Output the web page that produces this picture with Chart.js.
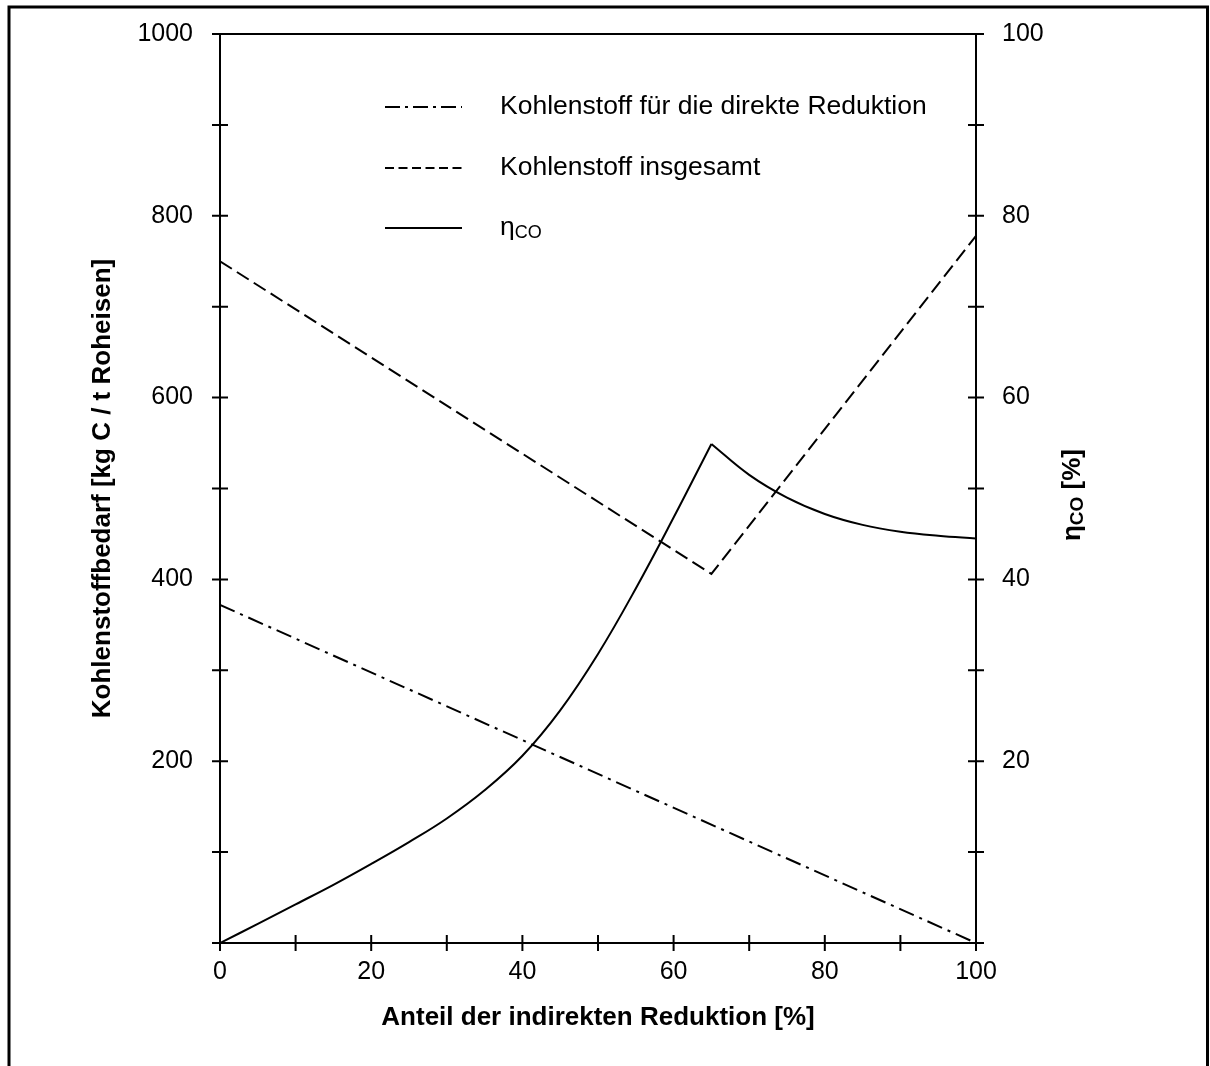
<!DOCTYPE html>
<html>
<head>
<meta charset="utf-8">
<script src="https://cdn.jsdelivr.net/npm/chart.js@4.4.1/dist/chart.umd.min.js"></script>
<style>
  html, body { margin: 0; padding: 0; background: #fff; }
</style>
</head>
<body>
<canvas id="chart" width="1210" height="1066"></canvas>
<script>
// Anteil der indirekten Reduktion [%]
const directShare = [0, 100];
const directCarbon = [372, 0];          // kg C / t Roheisen

const totalShare = [0, 65, 100];
const totalCarbon = [750, 406, 778];    // kg C / t Roheisen

const etaShareRise = [0, 5, 10, 15, 20, 25, 30, 35, 40, 45, 50, 55, 60, 65];
const etaRise = [0, 2.1, 4.25, 6.4, 8.7, 11.1, 13.7, 16.8, 20.6, 25.6, 31.8, 39.0, 46.8, 54.9];  // %
const etaShareFall = [65, 70, 75, 80, 85, 90, 95, 100];
const etaFall = [54.9, 51.5, 49.0, 47.2, 46.0, 45.25, 44.8, 44.5];                              // %

const xLabels = [0, 20, 40, 60, 80, 100];
const yLabels = [200, 400, 600, 800, 1000];
const y1Labels = [20, 40, 60, 80, 100];

const FONT = '"Liberation Sans", Arial, Helvetica, sans-serif';
Chart.defaults.font.family = FONT;
Chart.defaults.color = '#000';

const pts = (xs, ys) => xs.map((x, i) => ({ x, y: ys[i] }));

const legendItems = [
  { text: 'Kohlenstoff für die direkte Reduktion', dash: [15, 5, 3, 5] },
  { text: 'Kohlenstoff insgesamt', dash: [9, 4.5] },
  { text: 'η', sub: 'CO', dash: [] },
];

const decorations = {
  id: 'decorations',
  beforeDraw(chart) {
    const ctx = chart.ctx;
    ctx.save();
    ctx.strokeStyle = '#000';
    ctx.lineWidth = 3;
    ctx.beginPath();
    ctx.moveTo(9, 1066);
    ctx.lineTo(9, 7);
    ctx.lineTo(1207.5, 7);
    ctx.lineTo(1207.5, 1066);
    ctx.stroke();
    ctx.restore();
  },
  afterDraw(chart) {
    const ctx = chart.ctx;
    const area = chart.chartArea;
    const { x, y, y1 } = chart.scales;
    ctx.save();
    ctx.strokeStyle = '#000';
    ctx.lineWidth = 2;
    ctx.beginPath();
    // top frame line
    ctx.moveTo(area.left, area.top);
    ctx.lineTo(area.right, area.top);
    // ticks crossing the axes
    x.ticks.forEach(t => {
      const p = x.getPixelForValue(t.value);
      ctx.moveTo(p, area.bottom - 8);
      ctx.lineTo(p, area.bottom + 8);
    });
    y.ticks.forEach(t => {
      const p = y.getPixelForValue(t.value);
      ctx.moveTo(area.left - 8, p);
      ctx.lineTo(area.left + 8, p);
    });
    y1.ticks.forEach(t => {
      const p = y1.getPixelForValue(t.value);
      ctx.moveTo(area.right - 8, p);
      ctx.lineTo(area.right + 8, p);
    });
    ctx.stroke();

    // legend
    const rows = [107, 168, 228];
    legendItems.forEach((item, i) => {
      const ly = rows[i];
      ctx.beginPath();
      ctx.setLineDash(item.dash);
      ctx.lineWidth = 2;
      ctx.moveTo(385, ly);
      ctx.lineTo(462, ly);
      ctx.stroke();
      ctx.setLineDash([]);
      ctx.fillStyle = '#000';
      ctx.textBaseline = 'middle';
      ctx.textAlign = 'left';
      ctx.font = '26.5px ' + FONT;
      ctx.fillText(item.text, 500, ly);
      if (item.sub) {
        const w = ctx.measureText(item.text).width;
        ctx.font = '18px ' + FONT;
        ctx.fillText(item.sub, 500 + w, ly + 5);
      }
    });

    // right axis title: eta_CO [%]
    ctx.translate(1073, 495);
    ctx.rotate(-Math.PI / 2);
    ctx.textBaseline = 'middle';
    ctx.textAlign = 'left';
    const big = 'bold 26px ' + FONT;
    const small = 'bold 19px ' + FONT;
    ctx.font = big;
    const wEta = ctx.measureText('η').width;
    const wRest = ctx.measureText(' [%]').width;
    ctx.font = small;
    const wSub = ctx.measureText('CO').width;
    let cx = -(wEta + wSub + wRest) / 2;
    ctx.font = big;
    ctx.fillText('η', cx, 0);
    cx += wEta;
    ctx.font = small;
    ctx.fillText('CO', cx, 5);
    cx += wSub;
    ctx.font = big;
    ctx.fillText(' [%]', cx, 0);
    ctx.restore();
  }
};

const lineStyle = {
  borderColor: '#000',
  borderWidth: 2,
  pointRadius: 0,
  fill: false,
};

new Chart(document.getElementById('chart'), {
  type: 'line',
  data: {
    datasets: [
      { ...lineStyle, label: 'Kohlenstoff für die direkte Reduktion', data: pts(directShare, directCarbon),
        borderDash: [16, 6, 3, 6], yAxisID: 'y' },
      { ...lineStyle, label: 'Kohlenstoff insgesamt', data: pts(totalShare, totalCarbon),
        borderDash: [14, 6], yAxisID: 'y' },
      { ...lineStyle, label: 'ηCO', data: pts(etaShareRise, etaRise),
        tension: 0.4, yAxisID: 'y1' },
      { ...lineStyle, label: 'ηCO', data: pts(etaShareFall, etaFall),
        tension: 0.4, yAxisID: 'y1' },
    ],
  },
  options: {
    responsive: false,
    animation: false,
    layout: { padding: { top: 25, left: 0, right: 0, bottom: 0 } },
    plugins: {
      legend: { display: false },
      tooltip: { enabled: false },
    },
    scales: {
      x: {
        type: 'linear',
        min: 0,
        max: 100,
        grid: { display: false },
        border: { display: true, color: '#000', width: 2 },
        ticks: {
          stepSize: 10,
          autoSkip: false,
          maxRotation: 0,
          padding: 6,
          font: { size: 25 },
          callback: v => (xLabels.includes(v) ? String(v) : ''),
        },
        title: {
          display: true,
          text: 'Anteil der indirekten Reduktion [%]',
          font: { size: 26, weight: 'bold' },
          padding: { top: 0, bottom: 33 },
        },
        afterFit: s => { s.height = 123; },
      },
      y: {
        position: 'left',
        min: 0,
        max: 1000,
        grid: { display: false },
        border: { display: true, color: '#000', width: 2 },
        ticks: {
          stepSize: 100,
          autoSkip: false,
          padding: 19,
          font: { size: 25 },
          callback: v => (yLabels.includes(v) ? String(v) : ''),
        },
        title: {
          display: true,
          text: 'Kohlenstoffbedarf [kg C / t Roheisen]',
          font: { size: 26, weight: 'bold' },
          padding: { top: 87, bottom: 0 },
        },
        afterFit: s => { s.width = 220; },
      },
      y1: {
        position: 'right',
        min: 0,
        max: 100,
        grid: { display: false },
        border: { display: true, color: '#000', width: 2 },
        ticks: {
          stepSize: 10,
          autoSkip: false,
          padding: 18,
          font: { size: 25 },
          callback: v => (y1Labels.includes(v) ? String(v) : ''),
        },
        afterFit: s => { s.width = 234; },
      },
    },
  },
  plugins: [decorations],
});
</script>
</body>
</html>
